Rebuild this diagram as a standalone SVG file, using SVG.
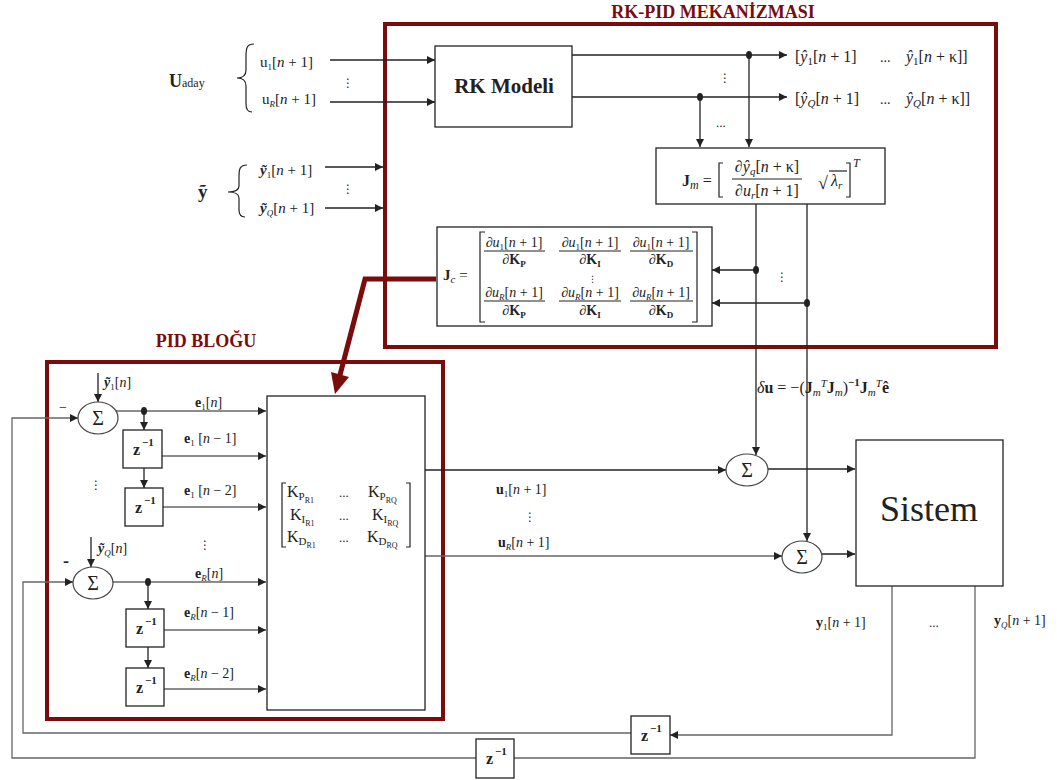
<svg xmlns="http://www.w3.org/2000/svg" width="1057" height="780" viewBox="0 0 1057 780" font-size="15">
<style>
text{font-family:"Liberation Serif","DejaVu Serif",serif;fill:#222}
.it{font-style:italic}
.bd{font-weight:bold}
.dots{font-family:"DejaVu Sans",sans-serif;font-size:12px}
.title{font-weight:bold;font-size:18px;fill:#7b0c0c}
.ln{stroke:#222;stroke-width:1.3;fill:none}
.gl{stroke:#666;stroke-width:1.3;fill:none}
.box{fill:#fff;stroke:#222;stroke-width:1.3}
.frame{fill:none;stroke:#7b0c0c;stroke-width:4}
.br{fill:none;stroke:#222;stroke-width:1.2}
.sum{fill:#fff;stroke:#444;stroke-width:1.2}
.sg{font-size:20px}
.z{font-weight:bold;font-size:16px}
.zs{font-weight:bold;font-size:11px}
</style>
<defs>
<marker id="ah" viewBox="0 0 10 10" refX="10" refY="5" markerWidth="9" markerHeight="8" markerUnits="userSpaceOnUse" orient="auto"><path d="M0,0 L10,5 L0,10 z" fill="#222"/></marker>
</defs>

<g id="frames">
<rect class="frame" x="385" y="24" width="611" height="323"/>
<rect class="frame" x="47" y="362" width="396" height="357"/>
<text class="title" x="713" y="18" text-anchor="middle">RK-PID MEKANİZMASI</text>
<text class="title" x="206" y="347" text-anchor="middle">PID BLOĞU</text>
</g>

<g id="connectors">
<path class="ln" d="M330,60 H435" marker-end="url(#ah)"/>
<path class="ln" d="M330,102 H435" marker-end="url(#ah)"/>
<path class="ln" d="M325,167 H383" marker-end="url(#ah)"/>
<path class="ln" d="M325,208 H383" marker-end="url(#ah)"/>
<path class="ln" d="M572,55 H787" marker-end="url(#ah)"/>
<path class="ln" d="M572,97 H787" marker-end="url(#ah)"/>
<path class="ln" d="M749,55 V147" marker-end="url(#ah)"/>
<path class="ln" d="M700,97 V147" marker-end="url(#ah)"/>
<path class="ln" d="M756,204 V455" marker-end="url(#ah)"/>
<path class="ln" d="M807,204 V541" marker-end="url(#ah)"/>
<path class="ln" d="M756,270 H712" marker-end="url(#ah)"/>
<path class="ln" d="M807,303 H712" marker-end="url(#ah)"/>
<path class="ln" d="M768,469 H855" marker-end="url(#ah)"/>
<path class="ln" d="M822,554 H855" marker-end="url(#ah)"/>
<path class="ln" d="M425,470 H726" marker-end="url(#ah)"/>
<path class="gl" d="M425,556 H782" marker-end="url(#ah)"/>
<path class="gl" d="M892,586 V735 H670" marker-end="url(#ah)"/>
<path class="gl" d="M631,733 H23 V582 H73" marker-end="url(#ah)"/>
<path class="gl" d="M975,586 V758 H514"/>
<path class="gl" d="M476,758 H12 V418 H78" marker-end="url(#ah)"/>
<path class="ln" d="M98,373 V402" marker-end="url(#ah)"/>
<path class="gl" d="M116,411 H266" marker-end="url(#ah)"/>
<path class="ln" d="M144,411 V430" marker-end="url(#ah)"/>
<path class="gl" d="M162,456 H266" marker-end="url(#ah)"/>
<path class="ln" d="M144,468 V488" marker-end="url(#ah)"/>
<path class="gl" d="M163,507 H266" marker-end="url(#ah)"/>
<path class="ln" d="M91,537 V567" marker-end="url(#ah)"/>
<path class="gl" d="M113,582 H266" marker-end="url(#ah)"/>
<path class="ln" d="M148,582 V609" marker-end="url(#ah)"/>
<path class="gl" d="M164,630 H266" marker-end="url(#ah)"/>
<path class="ln" d="M148,647 V668" marker-end="url(#ah)"/>
<path class="gl" d="M164,689 H266" marker-end="url(#ah)"/>
<g fill="#222">
<ellipse cx="749" cy="55" rx="3" ry="4"/>
<ellipse cx="700" cy="97" rx="3" ry="4"/>
<ellipse cx="756" cy="270" rx="3" ry="4"/>
<ellipse cx="807" cy="303" rx="3" ry="4"/>
<ellipse cx="144" cy="411" rx="3" ry="4"/>
<ellipse cx="148" cy="582" rx="3" ry="4"/>
</g>
<path d="M436,279 H365 L340,375" fill="none" stroke="#7b0c0c" stroke-width="5"/>
<polygon points="335,394 349,377 331,372" fill="#7b0c0c"/>
</g>

<g id="inputs">
<path class="br" d="M254,44 C247,44 246,48 246,56 L246,70 C246,76 242,78 237,78 C242,78 246,80 246,86 L246,104 C246,110 248,112 252,112"/>
<path class="br" d="M247,165 C240,165 239,169 239,176 L239,186 C239,190 235,192 228,192 C235,192 239,194 239,198 L239,210 C239,215 241,217 245,217"/>
<text x="169" y="87"><tspan class="bd" font-size="18">U</tspan><tspan font-size="12">aday</tspan></text>
<text x="198" y="198" class="bd" font-size="19">ỹ</text>
<text x="260" y="67">u<tspan font-size="9" dy="3">1</tspan><tspan dy="-3">[</tspan><tspan class="it">n</tspan> + 1]</text>
<text x="262" y="104">u<tspan font-size="9" dy="3" class="it">R</tspan><tspan dy="-3">[</tspan><tspan class="it">n</tspan> + 1]</text>
<text class="dots" x="342" y="87">⋮</text>
<text x="260" y="175"><tspan class="bd it">ỹ</tspan><tspan font-size="9" dy="3">1</tspan><tspan dy="-3">[</tspan><tspan class="it">n</tspan> + 1]</text>
<text x="260" y="213"><tspan class="bd it">ỹ</tspan><tspan font-size="9" dy="3" class="it">Q</tspan><tspan dy="-3">[</tspan><tspan class="it">n</tspan> + 1]</text>
<text class="dots" x="342" y="193">⋮</text>
</g>

<g id="rk-model">
<rect class="box" x="435" y="46" width="137" height="81"/>
<text x="504" y="93" text-anchor="middle" class="bd" font-size="21">RK Modeli</text>
</g>

<g id="rk-outputs">
<text x="795" y="62" font-size="16">[<tspan class="it">ŷ</tspan><tspan font-size="11" dy="3">1</tspan><tspan dy="-3">[</tspan><tspan class="it">n</tspan> + 1]</text>
<text x="880" y="62" font-size="14">...</text>
<text x="906" y="62" font-size="16"><tspan class="it">ŷ</tspan><tspan font-size="11" dy="3">1</tspan><tspan dy="-3">[</tspan><tspan class="it">n</tspan> + κ]]</text>
<text x="795" y="104" font-size="16">[<tspan class="it">ŷ</tspan><tspan font-size="11" dy="3" class="it">Q</tspan><tspan dy="-3">[</tspan><tspan class="it">n</tspan> + 1]</text>
<text x="880" y="104" font-size="14">...</text>
<text x="906" y="104" font-size="16"><tspan class="it">ŷ</tspan><tspan font-size="11" dy="3" class="it">Q</tspan><tspan dy="-3">[</tspan><tspan class="it">n</tspan> + κ]]</text>
<text class="dots" x="719" y="82">⋮</text>
<text x="716" y="127" font-size="13">...</text>
</g>

<g id="jm">
<rect class="box" x="656" y="148" width="229" height="56"/>
<text x="682" y="186" font-size="16"><tspan class="bd">J</tspan><tspan class="it" font-size="12" dy="3">m</tspan><tspan dy="-3"> =</tspan></text>
<path class="br" d="M723,163 H719 V197 H723"/>
<text x="767" y="172" text-anchor="middle" font-size="16">∂<tspan class="it">ŷ</tspan><tspan class="it" font-size="11" dy="3">q</tspan><tspan dy="-3">[</tspan><tspan class="it">n</tspan> + κ]</text>
<line class="br" x1="732" y1="179" x2="802" y2="179"/>
<text x="767" y="196" text-anchor="middle" font-size="16">∂<tspan class="it">u</tspan><tspan class="it" font-size="11" dy="3">r</tspan><tspan dy="-3">[</tspan><tspan class="it">n</tspan> + 1]</text>
<text x="818" y="189" font-size="18">√</text>
<line class="br" x1="829" y1="171" x2="847" y2="171"/>
<text x="831" y="186" font-size="16" class="it">λ<tspan font-size="11" dy="3">r</tspan></text>
<path class="br" d="M846,163 H850 V197 H846"/>
<text x="853" y="167" class="it" font-size="12">T</text>
</g>

<g id="jc">
<rect class="box" x="437" y="227" width="275" height="99"/>
<text x="443" y="280" font-size="15"><tspan class="bd">J</tspan><tspan class="it" font-size="11" dy="3">c</tspan><tspan dy="-3"> =</tspan></text>
<path class="br" d="M485,232 H480 V322 H485"/>
<path class="br" d="M692,232 H697 V322 H692"/>
<text x="514" y="247" font-size="14" text-anchor="middle">∂<tspan class="it">u</tspan><tspan font-size="9" dy="3">1</tspan><tspan dy="-3">[</tspan><tspan class="it">n</tspan> + 1]</text>
<text x="590" y="247" font-size="14" text-anchor="middle">∂<tspan class="it">u</tspan><tspan font-size="9" dy="3">1</tspan><tspan dy="-3">[</tspan><tspan class="it">n</tspan> + 1]</text>
<text x="661" y="247" font-size="14" text-anchor="middle">∂<tspan class="it">u</tspan><tspan font-size="9" dy="3">1</tspan><tspan dy="-3">[</tspan><tspan class="it">n</tspan> + 1]</text>
<line class="br" x1="484" y1="251" x2="545" y2="251"/>
<line class="br" x1="559" y1="251" x2="621" y2="251"/>
<line class="br" x1="630" y1="251" x2="693" y2="251"/>
<text x="514" y="264" font-size="14" text-anchor="middle">∂<tspan class="bd">K</tspan><tspan class="bd" font-size="9" dy="3">P</tspan></text>
<text x="590" y="264" font-size="14" text-anchor="middle">∂<tspan class="bd">K</tspan><tspan class="bd" font-size="9" dy="3">I</tspan></text>
<text x="661" y="264" font-size="14" text-anchor="middle">∂<tspan class="bd">K</tspan><tspan class="bd" font-size="9" dy="3">D</tspan></text>
<text class="dots" x="588" y="282" style="font-size:9px">⋮</text>
<text x="514" y="297" font-size="14" text-anchor="middle">∂<tspan class="it">u</tspan><tspan class="it" font-size="9" dy="3">R</tspan><tspan dy="-3">[</tspan><tspan class="it">n</tspan> + 1]</text>
<text x="590" y="297" font-size="14" text-anchor="middle">∂<tspan class="it">u</tspan><tspan class="it" font-size="9" dy="3">R</tspan><tspan dy="-3">[</tspan><tspan class="it">n</tspan> + 1]</text>
<text x="661" y="297" font-size="14" text-anchor="middle">∂<tspan class="it">u</tspan><tspan class="it" font-size="9" dy="3">R</tspan><tspan dy="-3">[</tspan><tspan class="it">n</tspan> + 1]</text>
<line class="br" x1="484" y1="301" x2="545" y2="301"/>
<line class="br" x1="559" y1="301" x2="621" y2="301"/>
<line class="br" x1="630" y1="301" x2="693" y2="301"/>
<text x="514" y="315" font-size="14" text-anchor="middle">∂<tspan class="bd">K</tspan><tspan class="bd" font-size="9" dy="3">P</tspan></text>
<text x="590" y="315" font-size="14" text-anchor="middle">∂<tspan class="bd">K</tspan><tspan class="bd" font-size="9" dy="3">I</tspan></text>
<text x="661" y="315" font-size="14" text-anchor="middle">∂<tspan class="bd">K</tspan><tspan class="bd" font-size="9" dy="3">D</tspan></text>
<text class="dots" x="776" y="281">⋮</text>
</g>

<g id="delta-u">
<text x="757" y="393" font-size="16"><tspan class="it">δ</tspan><tspan class="bd">u</tspan> = −(<tspan class="bd">J</tspan><tspan class="it" font-size="11" dy="3">m</tspan><tspan class="it" font-size="11" dy="-9">T</tspan><tspan class="bd" dy="6">J</tspan><tspan class="it" font-size="11" dy="3">m</tspan><tspan dy="-3">)</tspan><tspan class="bd" font-size="11" dy="-7">−1</tspan><tspan class="bd" dy="7">J</tspan><tspan class="it" font-size="11" dy="3">m</tspan><tspan class="it" font-size="11" dy="-9">T</tspan><tspan class="bd" dy="6">ê</tspan></text>
</g>

<g id="sum1"><ellipse class="sum" cx="98" cy="418" rx="20" ry="16"/><text class="sg" x="98" y="425" text-anchor="middle">Σ</text></g>
<g id="sum2"><ellipse class="sum" cx="93" cy="583" rx="20" ry="16"/><text class="sg" x="93" y="590" text-anchor="middle">Σ</text></g>
<g id="sum3"><ellipse class="sum" cx="747" cy="470" rx="21" ry="16"/><text class="sg" x="747" y="477" text-anchor="middle">Σ</text></g>
<g id="sum4"><ellipse class="sum" cx="802" cy="557" rx="20" ry="16"/><text class="sg" x="802" y="564" text-anchor="middle">Σ</text></g>

<g id="pid-labels">
<text x="104" y="387" font-size="14"><tspan class="bd it">ỹ</tspan><tspan font-size="9" dy="3">1</tspan><tspan dy="-3">[</tspan><tspan class="it">n</tspan>]</text>
<text x="59" y="412" font-size="14">−</text>
<text x="98" y="553" font-size="14"><tspan class="bd it">ỹ</tspan><tspan class="it" font-size="9" dy="3">Q</tspan><tspan dy="-3">[</tspan><tspan class="it">n</tspan>]</text>
<text x="63" y="567" font-size="18" class="bd">-</text>
<text x="195" y="407" font-size="14"><tspan class="bd">e</tspan><tspan font-size="9" dy="3">1</tspan><tspan dy="-3">[</tspan><tspan class="it">n</tspan>]</text>
<text x="184" y="443" font-size="14"><tspan class="bd">e</tspan><tspan font-size="9" dy="3">1</tspan><tspan dy="-3"> [</tspan><tspan class="it">n</tspan> − 1]</text>
<text x="184" y="495" font-size="14"><tspan class="bd">e</tspan><tspan font-size="9" dy="3">1</tspan><tspan dy="-3"> [</tspan><tspan class="it">n</tspan> − 2]</text>
<text x="195" y="578" font-size="14"><tspan class="bd">e</tspan><tspan class="it" font-size="9" dy="3">R</tspan><tspan dy="-3">[</tspan><tspan class="it">n</tspan>]</text>
<text x="184" y="617" font-size="14"><tspan class="bd">e</tspan><tspan class="it" font-size="9" dy="3">R</tspan><tspan dy="-3">[</tspan><tspan class="it">n</tspan> − 1]</text>
<text x="184" y="678" font-size="14"><tspan class="bd">e</tspan><tspan class="it" font-size="9" dy="3">R</tspan><tspan dy="-3">[</tspan><tspan class="it">n</tspan> − 2]</text>
<text class="dots" x="90" y="489">⋮</text>
<text class="dots" x="199" y="549">⋮</text>
</g>

<g id="z1"><rect class="box" x="123" y="430" width="39" height="38"/><text class="z" x="133" y="455">z</text><text class="zs" x="142" y="446">−1</text></g>
<g id="z2"><rect class="box" x="125" y="488" width="38" height="38"/><text class="z" x="135" y="513">z</text><text class="zs" x="144" y="504">−1</text></g>
<g id="z3"><rect class="box" x="126" y="609" width="38" height="38"/><text class="z" x="136" y="634">z</text><text class="zs" x="145" y="625">−1</text></g>
<g id="z4"><rect class="box" x="126" y="668" width="38" height="38"/><text class="z" x="136" y="693">z</text><text class="zs" x="145" y="684">−1</text></g>
<g id="z5"><rect class="box" x="631" y="716" width="39" height="38"/><text class="z" x="641" y="741">z</text><text class="zs" x="650" y="732">−1</text></g>
<g id="z6"><rect class="box" x="476" y="739" width="38" height="39"/><text class="z" x="486" y="764">z</text><text class="zs" x="495" y="755">−1</text></g>

<g id="pid-matrix">
<rect class="box" x="267" y="396" width="158" height="314"/>
<path class="br" d="M286,483 H282 V547 H286"/>
<path class="br" d="M406,483 H410 V547 H406"/>
<text x="287" y="497" font-size="16">K<tspan font-size="11" dy="3">P</tspan><tspan font-size="8" dy="3">R1</tspan></text>
<text x="339" y="497" font-size="13">...</text>
<text x="368" y="497" font-size="16">K<tspan font-size="11" dy="3">P</tspan><tspan font-size="8" dy="3">RQ</tspan></text>
<text x="290" y="520" font-size="16">K<tspan font-size="11" dy="3">I</tspan><tspan font-size="8" dy="3">R1</tspan></text>
<text x="339" y="520" font-size="13">...</text>
<text x="372" y="520" font-size="16">K<tspan font-size="11" dy="3">I</tspan><tspan font-size="8" dy="3">RQ</tspan></text>
<text x="287" y="542" font-size="16">K<tspan font-size="11" dy="3">D</tspan><tspan font-size="8" dy="3">R1</tspan></text>
<text x="339" y="542" font-size="13">...</text>
<text x="367" y="542" font-size="16">K<tspan font-size="11" dy="3">D</tspan><tspan font-size="8" dy="3">RQ</tspan></text>
</g>

<g id="u-labels">
<text x="496" y="494" font-size="14"><tspan class="bd">u</tspan><tspan font-size="9" dy="3">1</tspan><tspan dy="-3">[</tspan><tspan class="it">n</tspan> + 1]</text>
<text class="dots" x="524" y="521">⋮</text>
<text x="498" y="547" font-size="14"><tspan class="bd">u</tspan><tspan class="it" font-size="9" dy="3">R</tspan><tspan dy="-3">[</tspan><tspan class="it">n</tspan> + 1]</text>
</g>

<g id="sistem">
<rect class="box" x="856" y="440" width="147" height="146"/>
<text x="929" y="521" text-anchor="middle" font-size="36">Sistem</text>
</g>

<g id="y-labels">
<text x="816" y="627" font-size="14"><tspan class="bd">y</tspan><tspan font-size="9" dy="3">1</tspan><tspan dy="-3">[</tspan><tspan class="it">n</tspan> + 1]</text>
<text x="929" y="627" font-size="13">...</text>
<text x="994" y="625" font-size="14"><tspan class="bd">y</tspan><tspan class="it" font-size="9" dy="3">Q</tspan><tspan dy="-3">[</tspan><tspan class="it">n</tspan> + 1]</text>
</g>
</svg>
